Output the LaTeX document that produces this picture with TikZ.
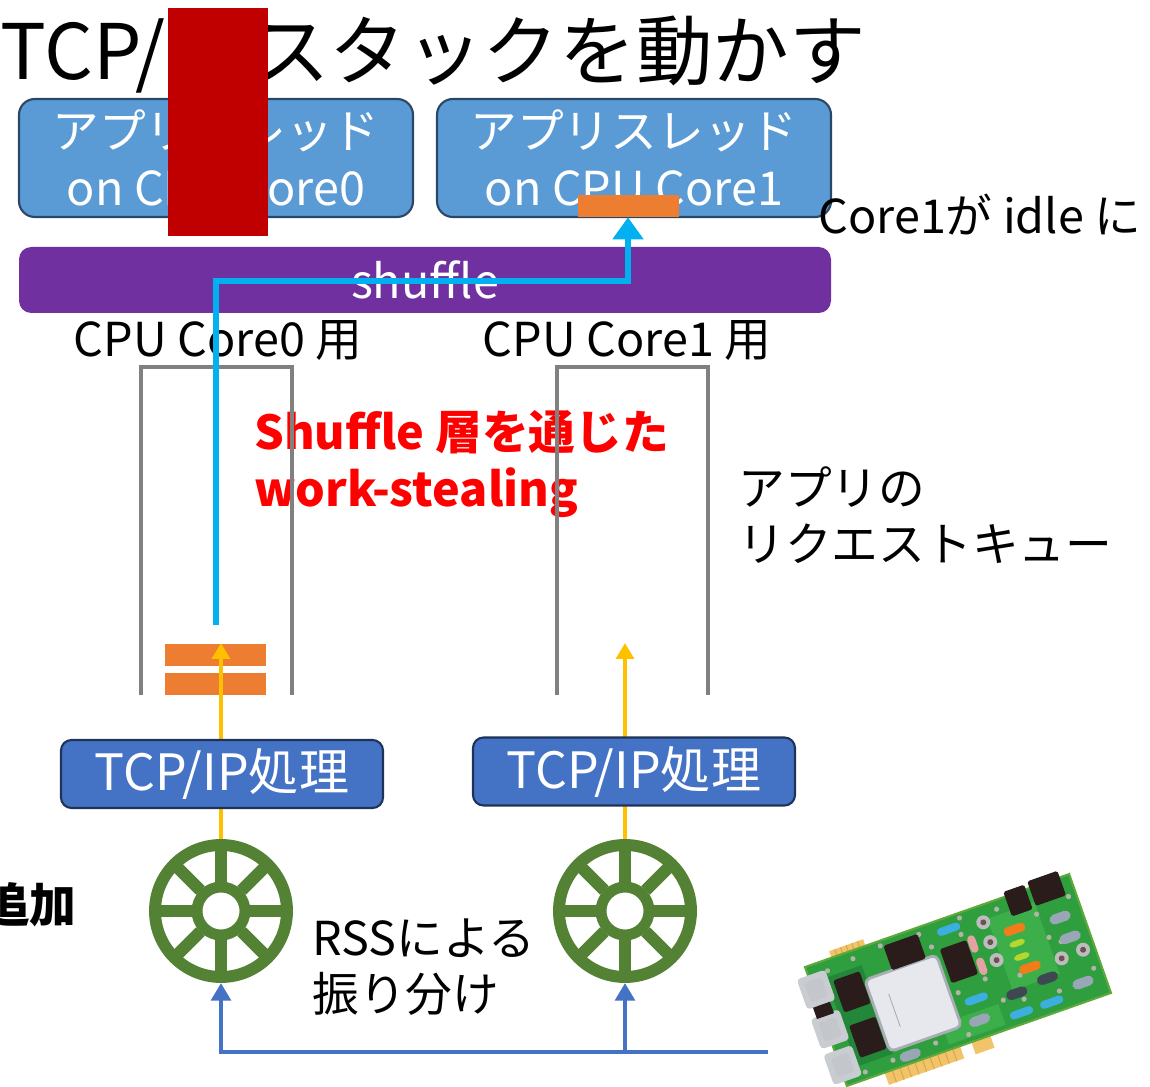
\documentclass[tikz,border=0pt]{standalone}
\usepackage{fontspec}
\setmainfont{Noto Sans CJK JP}
\usepackage{xcolor}
\usetikzlibrary{arrows.meta}

\definecolor{appblue}{HTML}{5B9BD5}
\definecolor{appedge}{HTML}{2A4766}
\definecolor{tcpblue}{HTML}{4472C4}
\definecolor{tcpedge}{HTML}{1F3358}
\definecolor{shufpurple}{HTML}{7030A0}
\definecolor{pkorange}{HTML}{ED7D31}
\definecolor{rxyellow}{HTML}{FFC000}
\definecolor{stealcyan}{HTML}{00B0F0}
\definecolor{wheelgreen}{HTML}{548235}
\definecolor{queuegray}{HTML}{808080}
\definecolor{stealred}{HTML}{FF0000}
\definecolor{redact}{HTML}{C00000}
\definecolor{pcbgreen}{HTML}{2E9E3E}
\definecolor{pcbdark}{HTML}{23873A}
\definecolor{pcblight}{HTML}{3DAF4A}
\definecolor{pcbedge}{HTML}{5FA93A}
\definecolor{chipblack}{HTML}{2B1C1C}
\definecolor{silver}{HTML}{E6E8EE}
\definecolor{silveredge}{HTML}{A9AEB5}
\definecolor{portgray}{HTML}{C9CDD2}
\definecolor{gold}{HTML}{F2C46A}
\definecolor{golddark}{HTML}{DDA64E}
\definecolor{resblue}{HTML}{3DAEE0}
\definecolor{resorange}{HTML}{F07D1A}
\definecolor{reslime}{HTML}{B6D82C}
\definecolor{respink}{HTML}{E3A3A3}
\definecolor{capgray}{HTML}{BDBDBD}
\definecolor{capbrown}{HTML}{6B5252}
\definecolor{beangray}{HTML}{98A6B6}
\definecolor{beandark}{HTML}{3F4852}
\definecolor{dotgray}{HTML}{B5B2A8}

\newcommand{\pxu}{0.02cm}
\newcommand{\bodyfs}{\fontsize{26.6pt}{32.3pt}\selectfont}
\newcommand{\tcpfs}{\fontsize{28.5pt}{34pt}\selectfont}
\newcommand{\titlefs}{\fontsize{43.6pt}{50pt}\selectfont}

\tikzset{
	appbox/.style = {draw=appedge, line width=1.2pt, fill=appblue, rounded corners=9pt,
		minimum width=394*\pxu, minimum height=118*\pxu, text=white, align=center, font=\bodyfs},
	tcpbox/.style = {draw=tcpedge, line width=1.2pt, fill=tcpblue, rounded corners=6pt,
		minimum width=322*\pxu, minimum height=68*\pxu, text=white, font=\tcpfs},
	shufbar/.style = {fill=shufpurple, rounded corners=7pt, minimum width=812*\pxu,
		minimum height=66*\pxu, text=white, font=\bodyfs, inner sep=0pt},
	qbar/.style = {fill=pkorange, minimum width=101*\pxu, minimum height=22*\pxu, inner sep=0pt},
	lbl/.style = {font=\bodyfs, inner sep=0pt},
	wheel/.style = {circle, draw=wheelgreen, line width=6.8pt, minimum size=132*\pxu, inner sep=0pt},
	queue/.style = {draw=queuegray, line width=2.8pt},
	rxarrow/.style = {draw=rxyellow, line width=2.3pt, -{Triangle[width=10pt,length=9pt]}},
	rssline/.style = {draw=tcpblue, line width=2.8pt, -{Triangle[width=11pt,length=10pt]}},
	stealline/.style = {draw=stealcyan, line width=3.4pt, -{Triangle[width=17pt,length=12.5pt]}},
	chip/.style = {fill=chipblack, rounded corners=1pt},
	pill/.style = {rounded corners=2.2pt},
}

\begin{document}
\begin{tikzpicture}[x=0.02cm, y=-0.02cm]
	\useasboundingbox (0,0) rectangle (1150,1087);

	\node[anchor=base west, inner sep=0pt, font=\titlefs] (title) at (0,80) {TCP/IP スタックを動かす};

	\node[appbox] (app0) at (216,158) {アプリスレッド\\on CPU Core0};
	\node[appbox] (app1) at (634,158) {アプリスレッド\\on CPU Core1};
	\node[qbar] (bar1) at (628,206) {};

	\node[shufbar] (shuf) at (425,280) {shuffle};

	\node[lbl] (core0) at (218,340) {CPU Core0 用};
	\node[lbl] (core1) at (627,340) {CPU Core1 用};
	\node[lbl, anchor=west] (idle) at (818,215) {Core1が idle に};

	\node[lbl, font=\bodyfs\bfseries, text=stealred, align=left, anchor=north west] (stealnote)
		at (254,410) {Shuffle 層を通じた\\work-stealing};
	\node[lbl, align=left, anchor=north west] (qnote) at (738,466) {アプリの\\リクエストキュー};
	\node[lbl, align=left, anchor=north west] (rssnote) at (312,918) {RSSによる\\振り分け};
	\node[lbl, font=\bodyfs\bfseries, anchor=east] (addnote) at (77,905) {追加};

	\foreach \qx in {141,557}
		\draw[queue] (\qx,695) |- (\qx+151,367) -- (\qx+151,695);

	\node[qbar] (bar0a) at (215.5,655) {};
	\node[qbar] (bar0b) at (215.5,684.5) {};

	\node[wheel] (rss0) at (221,911) {};
	\node[wheel] (rss1) at (625,911) {};
	\foreach \w in {rss0, rss1} {
		\draw[wheelgreen, line width=6.2pt] (\w.center) circle (24*\pxu);
		\foreach \a in {0,45,...,315}
			\draw[wheelgreen, line width=7pt] ([shift={(\a:29*\pxu)}]\w.center) -- ([shift={(\a:62*\pxu)}]\w.center);
	}

	\coordinate (in0) at (221,643);
	\coordinate (in1) at (625,643);
	\draw[rxarrow] (rss0.north) -- (in0);
	\draw[rxarrow] (rss1.north) -- (in1);

	\node[tcpbox] (tcp0) at (222,774) {TCP/IP処理};
	\node[tcpbox] (tcp1) at (634,771.5) {TCP/IP処理};

	\coordinate (nicport) at (768,1052);
	\draw[rssline] (nicport) -| (rss0.south);
	\draw[rssline] (nicport -| rss1.south) -- (rss1.south);

	\coordinate (steal) at (216,625);
	\coordinate (lane) at (0,281);
	\draw[stealline] (steal) |- (lane -| bar1.south) -- (bar1.south);

	\fill[redact] (168,8) rectangle (268,236);

	\begin{scope}[shift={(958,980)}, rotate=19.4]
		\fill[gold] (-112,-70) rectangle (-76,-60);
		\fill[gold] (-100,60) rectangle (-20,76);
		\fill[gold] (-8,60) rectangle (12,76);
		\foreach \g in {-92,-84,...,-28}
			\draw[golddark, line width=0.6pt] (\g,64) -- (\g,76);
		\foreach \g in {-106,-100,...,-82}
			\draw[golddark, line width=0.6pt] (\g,-70) -- (\g,-62);

		\fill[pcbgreen, draw=pcbedge, line width=1.2pt] (-140,-63) rectangle (140,63);
		\fill[pcbdark] (-124,-46) rectangle (-86,48);
		\fill[pcblight] (48,-48) rectangle (98,28);
		\fill[pcblight] (-30,36) rectangle (30,58);

		\foreach \d in {(-120,-52),(-92,-55),(-72,-26),(-22,-56),(-14,-40),(-26,40),(-88,54),
			(-118,56),(-62,54),(-42,52),(-8,55),(18,-42),(26,8),(36,34),(60,-54),(96,-36),
			(100,-10),(132,-42),(132,34),(92,44),(60,16),(-4,12),(-18,-22),(-78,-4),(22,-58),
			(56,40),(-126,-4),(-62,-58),(110,-2),(-30,-2)}
			\fill[dotgray] \d circle (2.6);

		\foreach \py in {-38,4,42} {
			\fill[portgray, rounded corners=2pt] (-152,\py-16) rectangle (-122,\py+16);
			\fill[silveredge!70, rounded corners=1pt] (-146,\py-10) rectangle (-128,\py+10);
		}
		\fill[chipblack] (-146,-22) rectangle (-128,-10);

		\fill[silver, draw=silveredge, line width=1.6pt, rounded corners=3pt] (-88,-31) rectangle (-12,45);
		\draw[silveredge, line width=0.5pt] (-70,-10) -- (-70,25);

		\fill[chip] (-59,-57) rectangle (-23,-31);
		\fill[chip] (-7,-35) rectangle (21,1);
		\fill[chip] (72,-68) rectangle (94,-42);
		\fill[chip] (98,-70) rectangle (130,-44);
		\fill[chip] (-118,-41) rectangle (-90,-7);
		\fill[chip] (-118,7) rectangle (-90,41);

		\foreach \p in {(8,-51),(11,24),(49,52),(81,52)}
			\fill[resblue, pill] \p ++(-12,-4) rectangle ++(24,8);
		\foreach \p in {(70,-29),(72,12)}
			\fill[resorange, pill] \p ++(-11,-4.5) rectangle ++(22,9);
		\foreach \p in {(68,-15),(68,-1)}
			\fill[reslime, pill] \p ++(-8,-3) rectangle ++(16,6);
		\foreach \p in {(26,-29),(27,-5)}
			\fill[respink, pill] \p ++(-4,-9) rectangle ++(8,18);
		\foreach \p in {(43,-46),(43,-25),(43,-6),(105,14),(128,13)} {
			\fill[capgray] \p circle (7);
			\fill[capbrown] \p circle (3);
		}
		\foreach \p in {(117,-25),(120,-3),(117,44),(7,45),(-70,55)}
			\fill[beangray, rounded corners=3pt] \p ++(-11,-5) rectangle ++(22,10);
		\foreach \p in {(51,32),(85,28)}
			\fill[beandark, rounded corners=3pt] \p ++(-11,-5) rectangle ++(22,10);
	\end{scope}
\end{tikzpicture}
\end{document}
